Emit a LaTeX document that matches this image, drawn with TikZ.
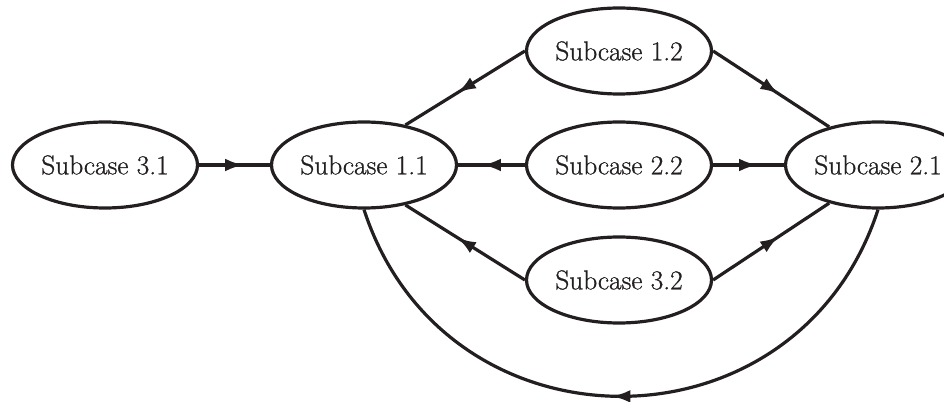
\documentclass[tikz,border=0pt]{standalone}
\usepackage{fontspec}
\newfontfamily\labelfont{Latin Modern Roman}[FakeBold=0.9]
\usetikzlibrary{shapes.geometric,arrows.meta,decorations.markings}
\definecolor{ink}{HTML}{231F20}
\begin{document}
\begin{tikzpicture}[x=0.75pt,y=-0.75pt,
  sc/.style={ellipse,draw=ink,line width=2.4pt,minimum width=185*0.75pt,minimum height=86*0.75pt,inner sep=0pt,text=ink,font=\labelfont\fontsize{20.5}{24}\selectfont},
  midarrow/.style={draw=ink,line width=2.4pt,postaction={decorate},
    decoration={markings,mark=at position 0.5 with {\arrow[xshift=7pt]{Latex[length=14pt,width=9.5pt]}}}}]
\useasboundingbox (0,0) rectangle (944,402);
\node[sc] (n31) at (105,165) {Subcase 3.1};
\node[sc] (n11) at (364,165) {Subcase 1.1};
\node[sc] (n12) at (619,51) {Subcase 1.2};
\node[sc] (n22) at (619,165) {Subcase 2.2};
\node[sc] (n32) at (619,280) {Subcase 3.2};
\node[sc] (n21) at (878,165) {Subcase 2.1};
\draw[midarrow] (n31.east) -- (n11.west);
\draw[midarrow] (n12.west) -- (n11.44);
\draw[midarrow] (n22.west) -- (n11.east);
\draw[midarrow] (n32.west) -- (n11.-44);
\draw[midarrow] (n12.east) -- (n21.142);
\draw[midarrow] (n22.east) -- (n21.west);
\draw[midarrow] (n32.east) -- (n21.-142);
\draw[midarrow] (n21.south) .. controls +(-81,249) and +(81,249) .. (n11.south);
\end{tikzpicture}
\end{document}
